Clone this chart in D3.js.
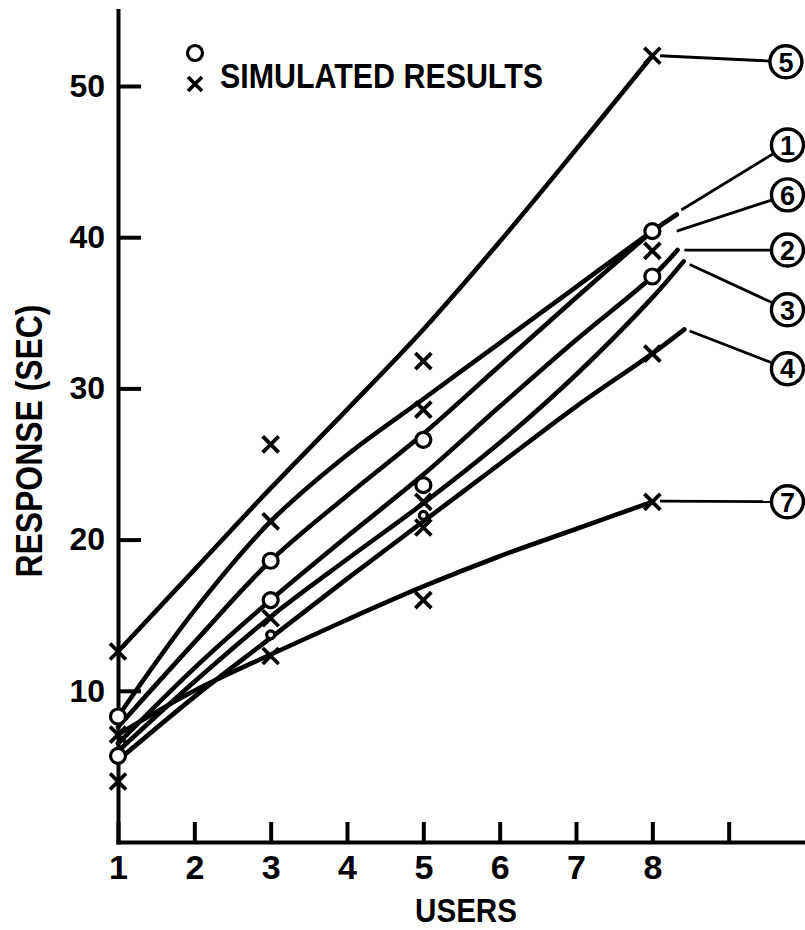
<!DOCTYPE html>
<html lang="en">
<head>
<meta charset="utf-8">
<title>Response vs Users</title>
<script src="https://d3js.org/d3.v7.min.js"></script>
<style>
  body { margin: 0; background: #fff; }
  svg { display: block; }
  text { font-family: "Liberation Sans", Arial, sans-serif; font-weight: bold; fill: #000; }
  .axis path, .axis line { stroke: #000; stroke-width: 4; }
  .curve { fill: none; stroke: #000; stroke-width: 4.6; stroke-linecap: round; stroke-linejoin: round; }
  .leader { stroke: #000; stroke-width: 2.8; }
  .mark-o { fill: #fff; stroke: #000; stroke-width: 3.2; }
  .mark-x { stroke: #000; stroke-width: 3.8; stroke-linecap: butt; }
</style>
</head>
<body>
<svg id="chart" width="805" height="930"></svg>
<script>
// values (response in seconds)
var users = [1, 2, 3, 4, 5, 6, 7, 8];
var curveNames = ["5", "1", "6", "2", "3", "4", "7"];
var curve5 = [12.6, 18.0, 23.4, 28.6, 33.9, 39.7, 45.8, 52.0];
var curve1 = [8.3, 15.3, 21.2, 25.6, 29.3, 33.0, 36.7, 40.4];
var curve6 = [7.6, 13.2, 18.6, 22.9, 27.0, 31.5, 36.0, 40.4];
var curve2 = [6.5, 11.5, 16.0, 20.2, 24.3, 28.8, 33.2, 37.4];
var curve3 = [6.0, 10.6, 14.9, 18.7, 22.4, 26.4, 30.9, 36.0];
var curve4 = [5.4, 9.6, 13.5, 17.4, 21.2, 25.0, 28.8, 32.3];
var curve7 = [7.1, 10.0, 12.4, 14.7, 16.9, 18.9, 20.7, 22.5];
// short run-out past 8 users (null = none)
var tailUsers = [null, 8.32, null, 8.33, 8.41, 8.42, null];
var tailValues = [null, 41.5, null, 39.15, 38.4, 33.9, null];
// where each leader line starts, and where the circled number sits
var leaderUsers = [8.1, 8.38, 8.32, 8.42, 8.49, 8.49, 8.1];
var leaderValues = [52.0, 41.8, 40.4, 39.15, 38.2, 33.8, 22.55];
var labelUsers = [9.75, 9.77, 9.77, 9.77, 9.77, 9.77, 9.77];
var labelValues = [51.6, 46.1, 42.8, 39.15, 35.2, 31.3, 22.5];

// simulated results
var circleUsers = [1, 1, 3, 3, 5, 5, 8, 8];
var circleValues = [8.3, 5.7, 18.6, 16.0, 26.6, 23.6, 40.4, 37.4];
var smallCircleUsers = [3, 5];
var smallCircleValues = [13.7, 21.6];
var crossUsers = [1, 1, 1, 3, 3, 3, 3, 5, 5, 5, 5, 5, 8, 8, 8, 8];
var crossValues = [12.6, 7.1, 4.0, 26.3, 21.2, 14.8, 12.3, 31.8, 28.6, 22.5, 20.8, 16.0, 52.0, 39.1, 32.3, 22.5];

var yTicks = [10, 20, 30, 40, 50];
var xTicks = [1, 2, 3, 4, 5, 6, 7, 8, 9];
var xTickLabels = ["1", "2", "3", "4", "5", "6", "7", "8", ""];

var svg = d3.select("#chart");

var x = d3.scaleLinear().domain([1, 10]).range([118, 805]);
var y = d3.scaleLinear().domain([0, 55]).range([842, 10.4]);

// axes
svg.append("g")
  .attr("class", "axis")
  .attr("transform", "translate(" + x(1) + ",0)")
  .call(d3.axisLeft(y).tickValues(yTicks).tickSizeInner(-23).tickSizeOuter(0).tickPadding(13))
  .selectAll("text").style("font-size", "32px").style("font-family", "Liberation Sans, Arial, sans-serif").style("font-weight", "bold");

svg.append("g")
  .attr("class", "axis")
  .attr("transform", "translate(0," + y(0) + ")")
  .call(d3.axisBottom(x).tickValues(xTicks).tickSizeInner(-20).tickSizeOuter(0).tickPadding(13)
    .tickFormat(function(d, i) { return xTickLabels[i]; }))
  .selectAll("text").style("font-size", "34px").style("font-family", "Liberation Sans, Arial, sans-serif").style("font-weight", "bold");

svg.selectAll(".axis path.domain").attr("stroke-linecap", "square");

// axis titles
svg.append("text")
  .attr("transform", "translate(42,441) rotate(-90)")
  .attr("text-anchor", "middle")
  .attr("textLength", 273)
  .attr("lengthAdjust", "spacingAndGlyphs")
  .style("font-size", "37px")
  .text("RESPONSE (SEC)");

svg.append("text")
  .attr("x", 415)
  .attr("y", 922)
  .attr("textLength", 102)
  .attr("lengthAdjust", "spacingAndGlyphs")
  .style("font-size", "34px")
  .text("USERS");

// curves
var allCurves = [curve5, curve1, curve6, curve2, curve3, curve4, curve7];
var curveData = allCurves.map(function(vals, i) {
  var pts = users.map(function(u, j) { return [u, vals[j]]; });
  if (tailUsers[i] != null) pts.push([tailUsers[i], tailValues[i]]);
  return pts;
});

var line = d3.line()
  .x(function(d) { return x(d[0]); })
  .y(function(d) { return y(d[1]); })
  .curve(d3.curveCatmullRom.alpha(0.5));

svg.append("g").selectAll("path")
  .data(curveData)
  .enter().append("path")
  .attr("class", "curve")
  .attr("d", line);

// leader lines and circled numbers
var labelR = 16;
var leaders = curveNames.map(function(name, i) {
  var x0 = x(leaderUsers[i]), y0 = y(leaderValues[i]);
  var cx = x(labelUsers[i]), cy = y(labelValues[i]);
  var dx = cx - x0, dy = cy - y0, len = Math.sqrt(dx * dx + dy * dy);
  return { name: name, x0: x0, y0: y0, cx: cx, cy: cy,
           x1: cx - dx / len * labelR, y1: cy - dy / len * labelR };
});

svg.append("g").selectAll("line")
  .data(leaders)
  .enter().append("line")
  .attr("class", "leader")
  .attr("x1", function(d) { return d.x0; })
  .attr("y1", function(d) { return d.y0; })
  .attr("x2", function(d) { return d.x1; })
  .attr("y2", function(d) { return d.y1; });

var tags = svg.append("g").selectAll("g")
  .data(leaders)
  .enter().append("g")
  .attr("transform", function(d) { return "translate(" + d.cx + "," + d.cy + ")"; });

tags.append("circle")
  .attr("r", labelR)
  .attr("fill", "#fff")
  .attr("stroke", "#000")
  .attr("stroke-width", 3.4);

tags.append("text")
  .attr("text-anchor", "middle")
  .attr("dy", "0.36em")
  .style("font-size", "27px")
  .text(function(d) { return d.name; });

// markers
function crossPath(s) {
  return "M" + (-s) + "," + (-s) + "L" + s + "," + s + "M" + s + "," + (-s) + "L" + (-s) + "," + s;
}

svg.append("g").selectAll("path")
  .data(crossUsers)
  .enter().append("path")
  .attr("class", "mark-x")
  .attr("transform", function(d, i) { return "translate(" + x(d) + "," + y(crossValues[i]) + ")"; })
  .attr("d", crossPath(8));

svg.append("g").selectAll("circle")
  .data(circleUsers)
  .enter().append("circle")
  .attr("class", "mark-o")
  .attr("cx", function(d) { return x(d); })
  .attr("cy", function(d, i) { return y(circleValues[i]); })
  .attr("r", 7.5);

svg.append("g").selectAll("circle")
  .data(smallCircleUsers)
  .enter().append("circle")
  .attr("class", "mark-o")
  .attr("cx", function(d) { return x(d); })
  .attr("cy", function(d, i) { return y(smallCircleValues[i]); })
  .attr("r", 4);

// legend
var legend = svg.append("g").attr("transform", "translate(195,0)");
legend.append("circle").attr("class", "mark-o").attr("cx", 0).attr("cy", 53).attr("r", 7.5);
legend.append("path").attr("class", "mark-x").attr("transform", "translate(0,84)").attr("d", crossPath(7));
legend.append("text")
  .attr("x", 220 - 195)
  .attr("y", 88)
  .attr("textLength", 323)
  .attr("lengthAdjust", "spacingAndGlyphs")
  .style("font-size", "35px")
  .text("SIMULATED RESULTS");
</script>
</body>
</html>
